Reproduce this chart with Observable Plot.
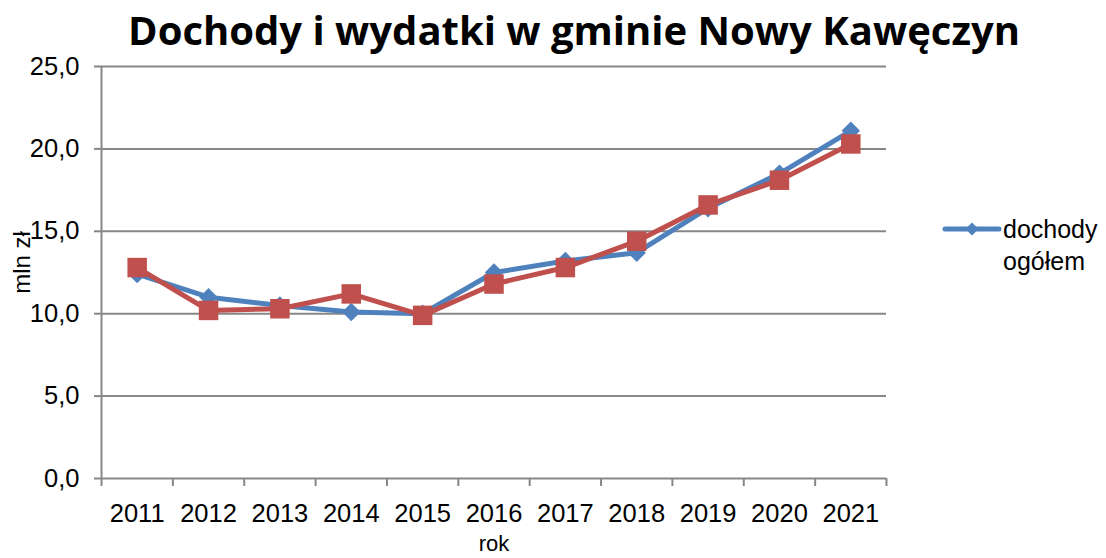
<!DOCTYPE html>
<html><head><meta charset="utf-8">
<script src="https://cdn.jsdelivr.net/npm/d3@7"></script>
<script src="https://cdn.jsdelivr.net/npm/@observablehq/plot@0.6"></script>
<style>
body{margin:0;background:#fff;}
#wrap{position:relative;width:1106px;height:558px;overflow:hidden;font-family:"Liberation Sans",Arial,sans-serif;background:#fff;}
#title{position:absolute;top:6px;white-space:nowrap;font-family:"Open Sans",sans-serif;font-weight:bold;line-height:1.2;color:#000;transform:translateX(-50%);}
#legend{position:absolute;left:942px;top:214px;display:flex;align-items:flex-start;}
#legend .txt{font-size:25px;line-height:32px;color:#000;margin-left:1px;margin-top:-1px;}
</style></head><body><div id="wrap"><div id="title"></div><div id="legend"></div></div>
<script>
const years = [2011, 2012, 2013, 2014, 2015, 2016, 2017, 2018, 2019, 2020, 2021];
const dochody = [12.4, 11.0, 10.5, 10.1, 10.0, 12.5, 13.2, 13.7, 16.4, 18.5, 21.1];
const wydatki = [12.8, 10.2, 10.3, 11.2, 9.9, 11.8, 12.8, 14.4, 16.6, 18.1, 20.3];
const seriesNames = ["dochody ogółem", "wydatki ogółem"];
const yTicks = [0, 5, 10, 15, 20, 25];
const titleText = "Dochody i wydatki w gminie Nowy Kawęczyn";
const xLabel = "rok";
const yLabel = "mln zł";
const colors = ["#4f81bd", "#c0504d"];
const gridColor = "#878787";

const sD = years.map((r, i) => ({rok: r, v: dochody[i], s: seriesNames[0]}));
const sW = years.map((r, i) => ({rok: r, v: wydatki[i], s: seriesNames[1]}));
const boundaries = years.map(y => y - 0.5).concat([years[years.length - 1] + 0.5]);

const chart = Plot.plot({
  width: 1106, height: 558,
  marginTop: 66, marginBottom: 80, marginLeft: 101, marginRight: 220,
  style: {fontFamily: '"Liberation Sans", Arial, sans-serif', fontSize: "25px", color: "#000", background: "#fff"},
  x: {type: "linear", domain: [boundaries[0], boundaries[boundaries.length - 1]]},
  y: {domain: [0, 25]},
  marks: [
    Plot.gridY(yTicks, {stroke: gridColor, strokeOpacity: 1, strokeWidth: 2}),
    Plot.ruleX([boundaries[0]], {stroke: gridColor, strokeWidth: 2}),
    Plot.axisY({ticks: yTicks, tickFormat: d => d.toFixed(1).replace(".", ","), tickSize: 7, tickPadding: 15, stroke: gridColor, strokeWidth: 2, label: null, fontSize: 25.5}),
    Plot.axisX({ticks: boundaries, tickFormat: () => "", tickSize: 8, stroke: gridColor, strokeWidth: 2, label: null}),
    Plot.axisX({ticks: years, tickFormat: d => String(d), tickSize: 0, tickPadding: 25, label: null, fontSize: 25.5}),
    Plot.line(sD, {x: "rok", y: "v", stroke: colors[0], strokeWidth: 5}),
    Plot.dot(sD, {x: "rok", y: "v", symbol: d3.symbolDiamond2, r: 8.3, fill: colors[0], stroke: null}),
    Plot.line(sW, {x: "rok", y: "v", stroke: colors[1], strokeWidth: 5}),
    Plot.dot(sW, {x: "rok", y: "v", symbol: "square", r: 11, fill: colors[1], stroke: null}),
    Plot.text([xLabel], {frameAnchor: "bottom", lineAnchor: "middle", dy: 65, fontSize: 22}),
    Plot.text([yLabel], {frameAnchor: "left", textAnchor: "middle", lineAnchor: "middle", rotate: -90, dx: -79, dy: -10, fontSize: 24})
  ]
});
const wrap = document.getElementById("wrap");
wrap.insertBefore(chart, wrap.firstChild);
chart.style.position = "absolute";
chart.style.left = "0";
chart.style.top = "0";

// title, fitted to the reference width
const title = document.getElementById("title");
title.textContent = titleText;
const ctx = document.createElement("canvas").getContext("2d");
ctx.font = 'bold 40px "Open Sans"';
const w40 = ctx.measureText(titleText).width;
const fs = 40 * 892 / w40;
title.style.fontSize = fs + "px";
title.style.left = "574px";

// legend
const legend = d3.select("#legend");
const ls = legend.append("svg").attr("width", 60).attr("height", 30);
ls.append("line").attr("x1", 3).attr("x2", 57).attr("y1", 15).attr("y2", 15)
  .attr("stroke", colors[0]).attr("stroke-width", 5).attr("stroke-linecap", "round");
ls.append("path").attr("transform", "translate(30,15)")
  .attr("d", d3.symbol(d3.symbolDiamond2, 110)()).attr("fill", colors[0]);
legend.append("div").attr("class", "txt").html(seriesNames[0].replace(" ", "<br>"));
</script>
</body></html>
